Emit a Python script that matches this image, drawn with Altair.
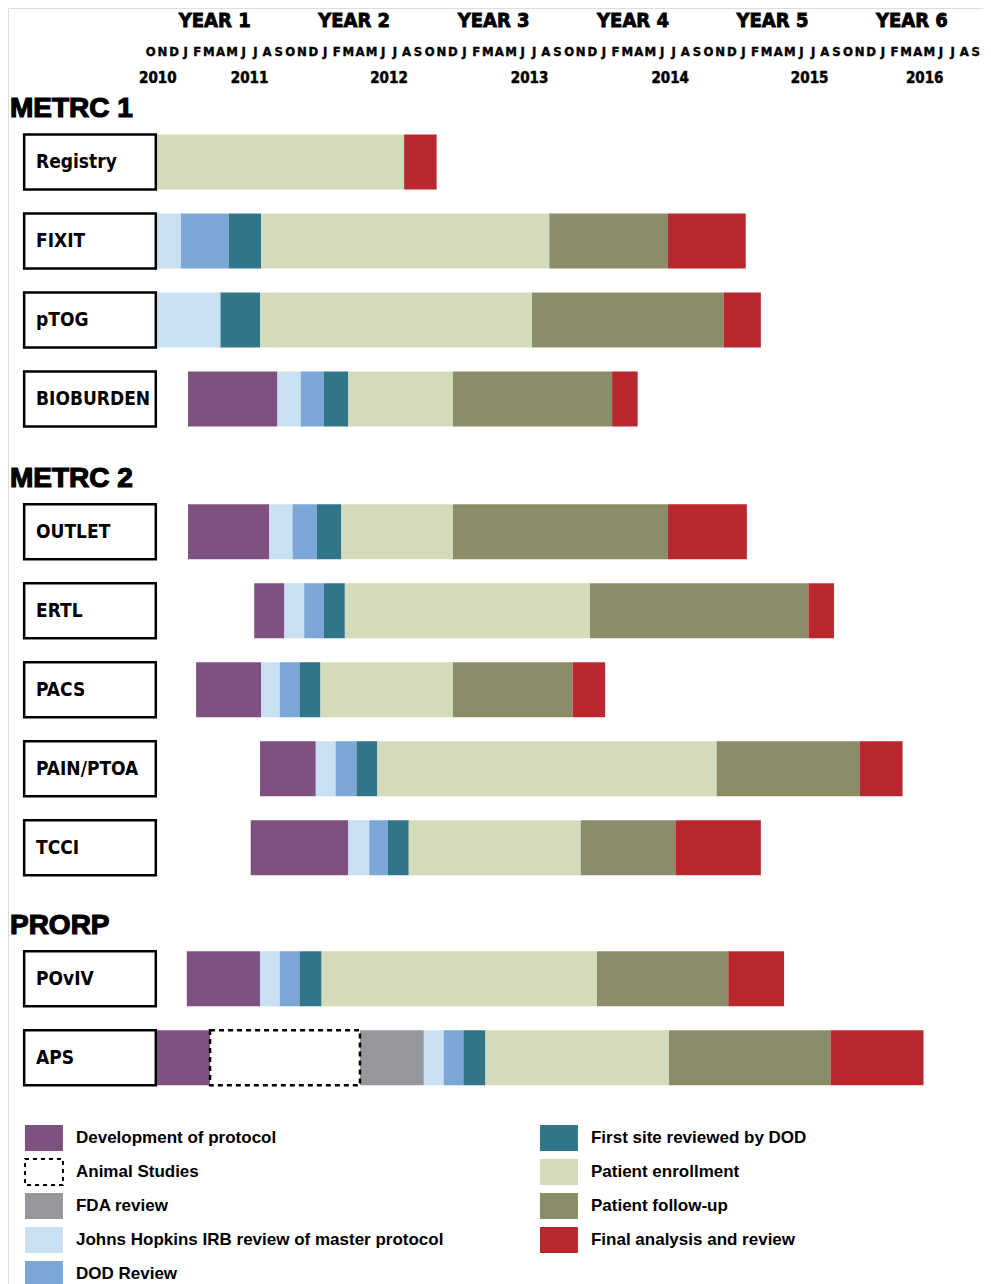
import altair as alt
import pandas as pd

# ---------------- data ----------------
PHASE_CODES = ["DEV", "ANI", "FDA", "JHU", "DOD", "SITE", "ENR", "FUP", "FIN"]
PHASE_NAMES = ["Development of protocol", "Animal Studies", "FDA review",
               "Johns Hopkins IRB review of master protocol", "DOD Review",
               "First site reviewed by DOD", "Patient enrollment",
               "Patient follow-up", "Final analysis and review"]
PHASE_COLORS = ["#7F5180", "#FFFFFF", "#96979B", "#C9DFF2", "#7BA7D7",
                "#317589", "#D4DBBA", "#8B8D69", "#BA272F"]

PROJECTS = ["Registry", "FIXIT", "pTOG", "BIOBURDEN", "OUTLET", "ERTL", "PACS",
            "PAIN/PTOA", "TCCI", "POvIV", "APS"]
ROW_POS = [0, 1, 2, 3, 4.68, 5.68, 6.68, 7.68, 8.68, 10.34, 11.34]

GROUP_TITLES = ["METRC 1", "METRC 2", "PRORP"]
GROUP_POS = [-0.67, 4.01, 9.67]

# months since Oct 2010 (Oct 2010 = 0..1)
registry_phases = ["ENR", "FIN"]
registry_edges = [1.0, 22.3, 25.1]
fixit_phases = ["JHU", "DOD", "SITE", "ENR", "FUP", "FIN"]
fixit_edges = [1.0, 3.1, 7.2, 10.0, 34.8, 45.0, 51.7]
ptog_phases = ["JHU", "SITE", "ENR", "FUP", "FIN"]
ptog_edges = [1.0, 6.5, 9.9, 33.3, 49.8, 53.0]
std_phases = ["DEV", "JHU", "DOD", "SITE", "ENR", "FUP", "FIN"]
bioburden_edges = [3.7, 11.4, 13.4, 15.4, 17.5, 26.5, 40.2, 42.4]
outlet_edges = [3.7, 10.7, 12.7, 14.8, 16.9, 26.5, 45.0, 51.8]
ertl_edges = [9.4, 12.0, 13.7, 15.4, 17.2, 38.3, 57.1, 59.3]
pacs_edges = [4.4, 10.0, 11.6, 13.3, 15.1, 26.5, 36.8, 39.6]
pain_edges = [9.9, 14.7, 16.4, 18.2, 20.0, 49.2, 61.5, 65.2]
tcci_edges = [9.1, 17.5, 19.3, 20.9, 22.7, 37.5, 45.7, 53.0]
poviv_edges = [3.6, 9.9, 11.6, 13.3, 15.2, 38.9, 50.2, 55.0]
aps_phases = ["DEV", "ANI", "FDA", "JHU", "DOD", "SITE", "ENR", "FUP", "FIN"]
aps_edges = [1.0, 5.6, 18.5, 24.0, 25.7, 27.4, 29.3, 45.1, 59.0, 67.0]

PROJECT_PHASES = [registry_phases, fixit_phases, ptog_phases, std_phases, std_phases,
                  std_phases, std_phases, std_phases, std_phases, std_phases, aps_phases]
PROJECT_EDGES = [registry_edges, fixit_edges, ptog_edges, bioburden_edges, outlet_edges,
                 ertl_edges, pacs_edges, pain_edges, tcci_edges, poviv_edges, aps_edges]

YEAR_TITLES = ["YEAR 1", "YEAR 2", "YEAR 3", "YEAR 4", "YEAR 5", "YEAR 6"]
YEAR_TITLE_X = [6, 18, 30, 42, 54, 66]
MONTH_LETTERS = ["O", "N", "D", "J", "F", "M", "A", "M", "J", "J", "A", "S"]
N_YEARS = 6
YEAR_LABELS = ["2010", "2011", "2012", "2013", "2014", "2015", "2016"]
YEAR_LABEL_X = [1.1, 9.0, 21.0, 33.1, 45.2, 57.2, 67.1]

# layout (scale units)
X_DOMAIN = [-11.79, 72.12]
Y_DOMAIN = [-1.949, 14.203]
BAR_HALF = 0.348
BOX_X = [-10.40, 0.93]
LABEL_X = -9.38
TITLE_X = -11.62
HEADER_ROWS = [-1.709, -1.392, -1.063]
LEGEND_SWATCH_X = [(-10.33, -7.06), (33.99, 37.26)]
LEGEND_TEXT_X = [-5.94, 38.38]
LEGEND_ROWS = [12.354, 12.785, 13.215, 13.646, 14.076]
LEGEND_COLS = [0, 0, 0, 0, 0, 1, 1, 1, 1]
LEGEND_ROW_IDX = [0, 1, 2, 3, 4, 0, 1, 2, 3]
LEGEND_ORDER = ["DEV", "ANI", "FDA", "JHU", "DOD", "SITE", "ENR", "FUP", "FIN"]
LEGEND_HALF = 0.165

# ---------------- tables ----------------
seg_rows = []
for name, pos, phases, edges in zip(PROJECTS, ROW_POS, PROJECT_PHASES, PROJECT_EDGES):
    for i, ph in enumerate(phases):
        seg_rows.append(dict(project=name, phase=ph, x=edges[i], x2=edges[i + 1],
                             y=pos - BAR_HALF, y2=pos + BAR_HALF))
seg_df = pd.DataFrame(seg_rows)

box_df = pd.DataFrame(dict(project=PROJECTS, r=ROW_POS,
                           x=[BOX_X[0]] * len(PROJECTS), x2=[BOX_X[1]] * len(PROJECTS),
                           tx=[LABEL_X] * len(PROJECTS)))
box_df["y"] = box_df["r"] - BAR_HALF
box_df["y2"] = box_df["r"] + BAR_HALF

group_df = pd.DataFrame(dict(t=GROUP_TITLES, r=GROUP_POS, x=[TITLE_X] * 3))

year_title_df = pd.DataFrame(dict(t=YEAR_TITLES, x=YEAR_TITLE_X, r=[HEADER_ROWS[0]] * 6))
month_rows = []
for yi in range(N_YEARS):
    for mi, m in enumerate(MONTH_LETTERS):
        month_rows.append(dict(t=m, x=yi * 12 + mi + 0.5, r=HEADER_ROWS[1]))
month_df = pd.DataFrame(month_rows)
year_label_df = pd.DataFrame(dict(t=YEAR_LABELS, x=YEAR_LABEL_X, r=[HEADER_ROWS[2]] * 7))

name_of = dict(zip(PHASE_CODES, PHASE_NAMES))
leg_rows = []
for code, c, ri in zip(LEGEND_ORDER, LEGEND_COLS, LEGEND_ROW_IDX):
    r = LEGEND_ROWS[ri]
    leg_rows.append(dict(phase=code, name=name_of[code],
                         x=LEGEND_SWATCH_X[c][0], x2=LEGEND_SWATCH_X[c][1],
                         tx=LEGEND_TEXT_X[c], r=r, y=r - LEGEND_HALF, y2=r + LEGEND_HALF))
leg_df = pd.DataFrame(leg_rows)

# ---------------- scales ----------------
xs = alt.Scale(domain=X_DOMAIN, nice=False, zero=False)
ys = alt.Scale(domain=Y_DOMAIN, nice=False, zero=False, reverse=True)
cs = alt.Scale(domain=PHASE_CODES, range=PHASE_COLORS)

X = lambda f: alt.X(f"{f}:Q", scale=xs, axis=None)
Y = lambda f: alt.Y(f"{f}:Q", scale=ys, axis=None)

NARROW = "'DejaVu Sans Condensed', 'Liberation Sans Narrow', sans-serif"
SANS = "'Liberation Sans', Arial, Helvetica, sans-serif"

bars = alt.Chart(seg_df).transform_filter(alt.datum.phase != "ANI").mark_rect().encode(
    x=X("x"), x2="x2", y=Y("y"), y2="y2",
    color=alt.Color("phase:N", scale=cs, legend=None))

animal = alt.Chart(seg_df).transform_filter(alt.datum.phase == "ANI").mark_rect(
    fill="white", stroke="black", strokeDash=[5, 4], strokeWidth=2.5).encode(
    x=X("x"), x2="x2", y=Y("y"), y2="y2")

boxes = alt.Chart(box_df).mark_rect(fill="white", stroke="black", strokeWidth=2.5).encode(
    x=X("x"), x2="x2", y=Y("y"), y2="y2")

box_labels = alt.Chart(box_df).mark_text(
    align="left", baseline="middle", font=NARROW, fontWeight="bold", fontSize=19,
    color="black").encode(x=X("tx"), y=Y("r"), text="project:N")

group_titles = alt.Chart(group_df).mark_text(
    align="left", baseline="middle", font=SANS, fontWeight="bold", fontSize=28,
    color="black", stroke="black", strokeWidth=1.2).encode(x=X("x"), y=Y("r"), text="t:N")

year_titles = alt.Chart(year_title_df).mark_text(
    align="center", baseline="alphabetic", font=NARROW, fontWeight="bold", fontSize=20,
    color="black", stroke="black", strokeWidth=0.8).encode(x=X("x"), y=Y("r"), text="t:N")

months = alt.Chart(month_df).mark_text(
    align="center", baseline="middle", font=NARROW, fontWeight="bold", fontSize=13,
    color="black", stroke="black", strokeWidth=0.4).encode(x=X("x"), y=Y("r"), text="t:N")

year_labels = alt.Chart(year_label_df).mark_text(
    align="center", baseline="middle", font=NARROW, fontWeight="bold", fontSize=15,
    color="black", stroke="black", strokeWidth=0.5).encode(x=X("x"), y=Y("r"), text="t:N")

leg_sw = alt.Chart(leg_df).transform_filter(alt.datum.phase != "ANI").mark_rect().encode(
    x=X("x"), x2="x2", y=Y("y"), y2="y2",
    color=alt.Color("phase:N", scale=cs, legend=None))

leg_ani = alt.Chart(leg_df).transform_filter(alt.datum.phase == "ANI").mark_rect(
    fill="white", stroke="black", strokeDash=[4, 4], strokeWidth=2).encode(
    x=X("x"), x2="x2", y=Y("y"), y2="y2")

leg_txt = alt.Chart(leg_df).mark_text(
    align="left", baseline="middle", font=SANS, fontWeight="bold", fontSize=17,
    color="black").encode(x=X("tx"), y=Y("r"), text="name:N")

chart = alt.layer(
    bars, animal, boxes, box_labels, group_titles, year_titles, months, year_labels,
    leg_sw, leg_ani, leg_txt
).properties(
    width=975, height=1276, padding=0,
    autosize=alt.AutoSizeParams(type="none")
).configure_view(stroke="transparent", strokeOpacity=0).configure(background="white")

chart.save("out.html", embed_options={"renderer": "svg", "actions": False})
